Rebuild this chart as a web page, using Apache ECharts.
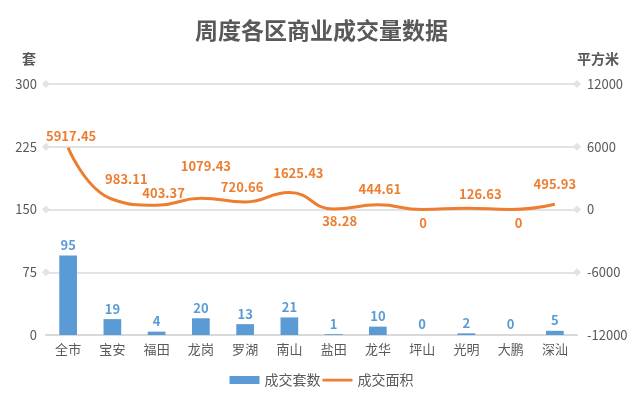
<!DOCTYPE html>
<html>
<head>
<meta charset="utf-8">
<script src="https://cdn.jsdelivr.net/npm/echarts@6/dist/echarts.min.js"></script>
<style>html,body{margin:0;padding:0;background:#fff}#c{width:643px;height:396px}</style>
</head>
<body>
<div id="c"></div>
<script>
var categories = ['全市','宝安','福田','龙岗','罗湖','南山','盐田','龙华','坪山','光明','大鹏','深汕'];
var unitsSold = [95,19,4,20,13,21,1,10,0,2,0,5];
var areaSold = [5917.45,983.11,403.37,1079.43,720.66,1625.43,38.28,444.61,0,126.63,0,495.93];
var leftTicks = [0,75,150,225,300];
var rightMin = -12000, rightMax = 12000, rightInterval = 6000;

// label nudges (style only)
var areaLabelOffsets = [[3,0],[14,-9],[7,-1],[5,-21],[-3,-3],[9,-8],[6,23],[2,-4],[1,25],[14,-3],[8,25],[0,-9]];

var font = '"Noto Sans CJK SC", "Microsoft YaHei", sans-serif';
var grey = '#595959';
var lineIcon = 'path://M0,2.8h30v2.6h-30z M0,0h0.01v0.01h-0.01z M0,8h0.01v0.01h-0.01z';
var chart = echarts.init(document.getElementById('c'), null, {renderer:'canvas'});
chart.setOption({
  animation: false,
  textStyle: {fontFamily: font},
  title: {
    text: '周度各区商业成交量数据', left: 'center', top: 14,
    textStyle: {fontSize: 23, fontWeight: 'bold', color: grey, fontFamily: font}
  },
  legend: {
    bottom: 4, left: 'center', itemGap: 2, itemWidth: 30, itemHeight: 8,
    textStyle: {fontSize: 14, color: grey, fontFamily: font},
    data: [{name:'成交套数', icon:'rect'}, {name:'成交面积', icon: lineIcon, itemStyle: {color: '#ED7D31'}}]
  },
  grid: {left: 46, right: 66, top: 84, bottom: 61},
  xAxis: {
    type: 'category', data: categories,
    axisLine: {lineStyle: {color: '#d9d9d9', width: 2}},
    axisTick: {show: false},
    axisLabel: {color: grey, fontSize: 13, margin: 8, fontFamily: font}
  },
  yAxis: [{
    type: 'value', min: leftTicks[0], max: leftTicks[leftTicks.length-1], interval: 75,
    name: '套', nameLocation: 'end', nameGap: 18,
    nameTextStyle: {color: grey, fontSize: 14, fontWeight: 'bold', align: 'right', padding: [0, 10, 0, 0]},
    axisLine: {show: false}, axisTick: {show: false}, splitLine: {show: false},
    axisLabel: {color: grey, fontSize: 13, margin: 9}
  }, {
    type: 'value', min: rightMin, max: rightMax, interval: rightInterval,
    name: '平方米', nameLocation: 'end', nameGap: 18,
    nameTextStyle: {color: grey, fontSize: 14, fontWeight: 'bold', align: 'left', padding: [0, 0, 0, 0]},
    axisLine: {show: false}, axisTick: {show: false}, splitLine: {show: false},
    axisLabel: {color: grey, fontSize: 13, margin: 10, formatter: function(v){ return String(v); }}
  }],
  series: [{
    name: '成交套数', type: 'bar', yAxisIndex: 0, data: unitsSold, barWidth: '40%', z: 2,
    itemStyle: {color: '#5B9BD5'},
    label: {show: true, position: 'top', distance: 4, color: '#5B9BD5', fontWeight: 'bold', fontSize: 13},
    markLine: {
      silent: true, z: 1, symbol: ['diamond','diamond'], symbolSize: 8,
      itemStyle: {color: '#cfcfcf'},
      lineStyle: {color: '#e3e3e3', width: 2, type: 'solid'},
      label: {show: false},
      data: leftTicks.slice(1).map(function(v){ return {yAxis: v}; })
    }
  }, {
    name: '成交面积', type: 'line', yAxisIndex: 1, smooth: true, showSymbol: true, symbol: 'circle', symbolSize: 0, z: 3,
    data: areaSold.map(function(v, i){
      return {value: v, label: {offset: areaLabelOffsets[i]}};
    }),
    itemStyle: {color: '#ED7D31'},
    lineStyle: {color: '#ED7D31', width: 3},
    label: {show: true, position: 'top', distance: 5, color: '#ED7D31', fontWeight: 'bold', fontSize: 13}
  }]
});
</script>
</body>
</html>
